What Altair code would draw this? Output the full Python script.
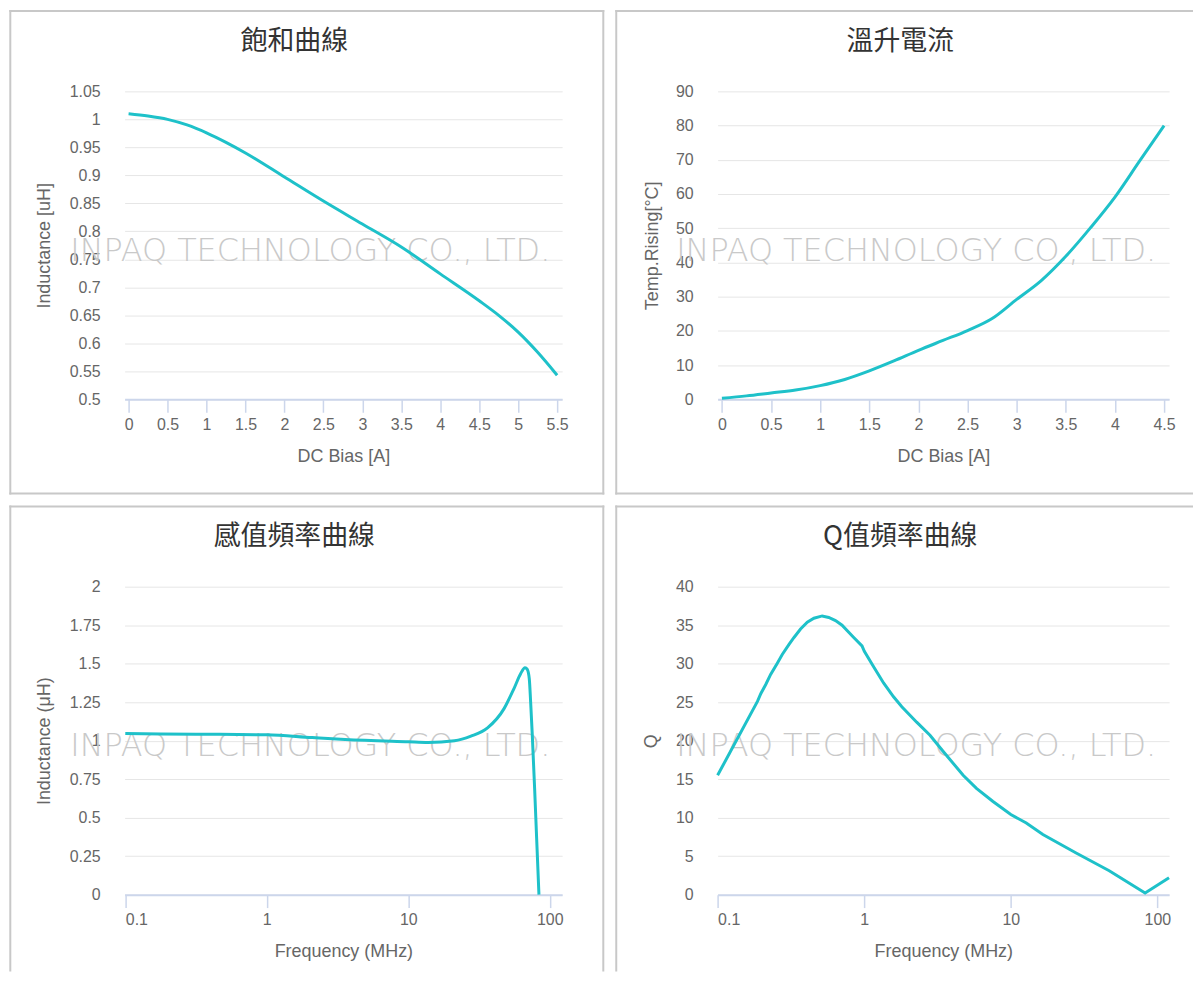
import altair as alt
import pandas as pd

# ---------------- data ----------------
# 飽和曲線  (DC Bias [A] vs Inductance [uH])
sat_bias = [0, 0.25, 0.5, 0.75, 1.0, 1.25, 1.5, 2.0, 2.5, 3.0, 3.5, 4.0, 4.5, 4.75, 5.0, 5.25, 5.5]
sat_L = [1.010, 1.006, 1.000, 0.990, 0.976, 0.959, 0.940, 0.897, 0.854, 0.813, 0.772, 0.724, 0.676, 0.650, 0.620, 0.584, 0.543]

# 溫升電流  (DC Bias [A] vs Temp.Rising [°C])
temp_bias = [0, 0.25, 0.5, 0.75, 1.0, 1.25, 1.5, 1.75, 2.0, 2.25, 2.5, 2.75, 3.0, 3.25, 3.5, 3.75, 4.0, 4.25, 4.5]
temp_rise = [0.3, 1.0, 1.85, 2.7, 4.0, 5.8, 8.3, 11.2, 14.3, 17.2, 20.1, 23.6, 29.2, 34.7, 41.8, 50.1, 59.1, 69.6, 80.0]

# 感值頻率曲線  (Frequency (MHz) vs Inductance (μH))
lf_freq = [0.1, 0.316, 1.0, 2.09, 3.58, 10.0, 13.8, 21.2, 27.7, 36.3, 47.5, 55.8, 62.2, 66.8, 69.3, 71.6, 73.2, 75.2, 78.1, 80.7, 83.8]
lf_L = [1.046, 1.042, 1.038, 1.020, 1.008, 0.9925, 0.988, 0.999, 1.029, 1.083, 1.208, 1.338, 1.435, 1.474, 1.463, 1.402, 1.251, 1.036, 0.690, 0.367, 0.0]

# Q值頻率曲線  (Frequency (MHz) vs Q)
q_freq = [0.1, 0.187, 0.197, 0.213, 0.230, 0.256, 0.276, 0.307, 0.332, 0.368, 0.409, 0.454, 0.517,
          0.573, 0.637, 0.706, 0.764, 0.848, 0.966, 1.002, 1.159, 1.355, 1.585, 1.805, 2.28, 2.81,
          3.46, 4.73, 5.83, 7.56, 10.0, 12.75, 16.55, 27.9, 46.9, 82.4, 120.0]
q_val = [15.5, 25.1, 26.1, 27.3, 28.6, 30.1, 31.2, 32.5, 33.4, 34.5, 35.4, 35.9, 36.2,
         36.0, 35.6, 35.0, 34.3, 33.4, 32.3, 31.6, 29.6, 27.5, 25.7, 24.4, 22.4, 20.7,
         18.6, 15.5, 13.8, 12.1, 10.4, 9.3, 7.8, 5.4, 3.1, 0.2, 2.2]

titles = ["飽和曲線", "溫升電流", "感值頻率曲線", "Q值頻率曲線"]
x_titles = ["DC Bias [A]", "DC Bias [A]", "Frequency (MHz)", "Frequency (MHz)"]
y_titles = ["Inductance [uH]", "Temp.Rising[°C]", "Inductance (μH)", "Q"]
watermark = "INPAQ TECHNOLOGY CO., LTD."

sat_yticks = [round(0.5 + 0.05 * i, 2) for i in range(12)]
sat_xticks = [round(0.5 * i, 1) for i in range(12)]
temp_yticks = [10 * i for i in range(10)]
temp_xticks = [round(0.5 * i, 1) for i in range(10)]
lf_yticks = [0, 0.25, 0.5, 0.75, 1, 1.25, 1.5, 1.75, 2]
q_yticks = [0, 5, 10, 15, 20, 25, 30, 35, 40]
log_ticks = [0.1, 1, 10, 100]

# ---------------- style ----------------
LINE = "#1ec1c9"
FRAME = "#c8c8c8"
FONT = "Liberation Sans"
CJK = "Noto Sans CJK TC"
H = 309
LBL = "format(datum.value, '~f')"


def frame_rules(frame_left, right, bottom, show_right, show_bottom):
    one = pd.DataFrame({"k": [0]})
    base = alt.Chart(one).mark_rule(color=FRAME, strokeWidth=2, strokeCap="square")
    parts = [
        base.encode(x=alt.value(frame_left), x2=alt.value(right), y=alt.value(-80.5)),
        base.encode(x=alt.value(frame_left), y=alt.value(-80.5), y2=alt.value(bottom)),
    ]
    if show_right:
        parts.append(base.encode(x=alt.value(right), y=alt.value(-80.5), y2=alt.value(bottom)))
    if show_bottom:
        parts.append(base.encode(x=alt.value(frame_left), x2=alt.value(right), y=alt.value(bottom)))
    return parts


def panel(df, xf, yf, xscale, yscale, xvals, yvals, idx, plot_w, frame_left, interp, ytitle_x,
          right, bottom, show_right, show_bottom):
    xaxis = alt.Axis(values=xvals, labelExpr=LBL, grid=False, domain=True, domainColor="#ccd6eb",
                     domainWidth=2, ticks=True, tickColor="#ccd6eb", tickWidth=1.5, tickSize=13,
                     labelPadding=4, labelFont=FONT, labelFontSize=16, labelColor="#666666",
                     title=x_titles[idx], titleFont=FONT, titleFontSize=18, titleColor="#666666",
                     titleFontWeight="normal", titleY=57, titleBaseline="middle")
    yaxis = alt.Axis(values=yvals, labelExpr=LBL, grid=True, gridColor="#e6e6e6", gridWidth=1,
                     domain=False, ticks=False, tickSize=0, labelPadding=24.5,
                     labelFont=FONT, labelFontSize=16, labelColor="#666666",
                     title=y_titles[idx], titleFont=FONT, titleFontSize=18, titleColor="#666666",
                     titleFontWeight="normal", titleX=ytitle_x, titleY=H / 2,
                     titleAngle=270, titleAlign="center", titleBaseline="middle")
    one = pd.DataFrame({"k": [0]})
    wm = alt.Chart(one).mark_text(font="DejaVu Sans", fontSize=32, fontWeight=200, color="#c9c9c9",
                                  align="center", baseline="middle").encode(
        x=alt.value(frame_left + 301), y=alt.value(160), text=alt.value(watermark))
    ttl = alt.Chart(one).mark_text(font=CJK, fontSize=27, color="#333333",
                                   align="center", baseline="middle").encode(
        x=alt.value(frame_left + 285), y=alt.value(-49.5), text=alt.value(titles[idx]))
    line = alt.Chart(df).mark_line(color=LINE, strokeWidth=3, interpolate=interp).encode(
        x=alt.X(xf, type="quantitative", scale=xscale, axis=xaxis),
        y=alt.Y(yf, type="quantitative", scale=yscale, axis=yaxis))
    layers = frame_rules(frame_left, right, bottom, show_right, show_bottom) + [wm, ttl, line]
    return alt.layer(*layers).properties(width=plot_w, height=H)


p1 = panel(pd.DataFrame({"bias": sat_bias, "L": sat_L}), "bias", "L",
           alt.Scale(domain=[-0.051, 5.564], nice=False, zero=False),
           alt.Scale(domain=[0.5, 1.05], nice=False, zero=False),
           sat_xticks, sat_yticks, 0, 439, -114.7, "monotone", -80,
           439 + 41.3, H + 94.5, True, True)
p2 = panel(pd.DataFrame({"bias": temp_bias, "T": temp_rise}), "bias", "T",
           alt.Scale(domain=[-0.044, 4.551], nice=False, zero=False),
           alt.Scale(domain=[0, 90], nice=False),
           temp_xticks, temp_yticks, 1, 453, -101.7, "monotone", -65,
           476, H + 94.5, False, True)
p3 = panel(pd.DataFrame({"f": lf_freq, "L": lf_L}), "f", "L",
           alt.Scale(type="log", domain=[0.0989, 122.2], nice=False),
           alt.Scale(domain=[0, 2], nice=False),
           log_ticks, lf_yticks, 2, 439, -114.7, "monotone", -80,
           439 + 41.3, H + 76, True, False)
p4 = panel(pd.DataFrame({"f": q_freq, "Q": q_val}), "f", "Q",
           alt.Scale(type="log", domain=[0.1, 120.1], nice=False),
           alt.Scale(domain=[0, 40], nice=False),
           log_ticks, q_yticks, 3, 453, -101.7, "linear", -66,
           476, H + 76, False, False)

chart = alt.vconcat(
    alt.hconcat(p1, p2, spacing=9),
    alt.hconcat(p3, p4, spacing=9),
    spacing=10,
).properties(padding=0, background="white").configure_view(stroke=None)

chart.save("out.html", embed_options={"renderer": "svg", "actions": False})
